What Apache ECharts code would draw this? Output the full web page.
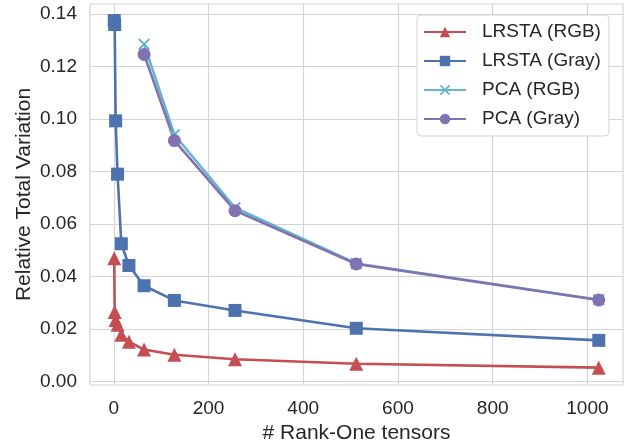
<!DOCTYPE html>
<html>
<head>
<meta charset="utf-8">
<script src="https://cdn.jsdelivr.net/npm/echarts@6/dist/echarts.min.js"></script>
<style>
  html, body { margin: 0; padding: 0; background: #fff; }
  #myChart { width: 625px; height: 445px; }
</style>
</head>
<body>
<div id="myChart"></div>
<script>
    // data
    const lrstaX = [1, 2, 4, 8, 16, 32, 64, 128, 256, 512, 1024];
    const lrstaRGB = [0.047, 0.0265, 0.0235, 0.0216, 0.0178, 0.0152, 0.0122, 0.0102, 0.0085, 0.0068, 0.0053];
    const lrstaGray = [0.1375, 0.136, 0.0993, 0.0790, 0.0525, 0.0442, 0.0365, 0.0309, 0.0271, 0.0203, 0.0157];
    const pcaX = [64, 128, 256, 512, 1024];
    const pcaRGB = [0.1285, 0.0940, 0.0662, 0.0450, 0.0312];
    const pcaGray = [0.1246, 0.0918, 0.0651, 0.0448, 0.0311];
    const xTicks = [0, 200, 400, 600, 800, 1000];
    const yTicks = [0, 0.02, 0.04, 0.06, 0.08, 0.10, 0.12, 0.14];

    const font = "'Liberation Sans', Arial, sans-serif";
    const txt = '#262626';
    const gridCol = '#d4d4d4';
    const crossPath = 'path://M0,1.2L1.2,0L5,3.8L8.8,0L10,1.2L6.2,5L10,8.8L8.8,10L5,6.2L1.2,10L0,8.8L3.8,5Z';

    function pairs(xs, ys) {
        return xs.map((x, i) => [x, ys[i]]);
    }
    function line(name, xs, ys, color, symbol, size) {
        return {
            name: name,
            type: 'line',
            data: pairs(xs, ys),
            symbol: symbol,
            symbolSize: size,
            showAllSymbol: true,
            lineStyle: { color: color, width: 2.6 },
            itemStyle: { color: color },
            emphasis: { disabled: true }
        };
    }

    let myChart = echarts.init(document.getElementById('myChart'));
    myChart.setOption({
        animation: false,
        textStyle: { fontFamily: font },
        grid: {
            left: 90, right: 2, top: 4, bottom: 60,
            outerBoundsMode: 'none',
            containLabel: false,
            show: true, borderColor: gridCol, borderWidth: 1.2
        },
        legend: {
            orient: 'vertical',
            left: 417, top: 15,
            padding: [6, 8, 6, 6],
            itemWidth: 42, itemHeight: 13,
            itemGap: 7,
            backgroundColor: '#fff',
            borderColor: '#d4d4d4', borderWidth: 1, borderRadius: 4,
            textStyle: { fontFamily: font, fontSize: 19, color: txt, lineHeight: 22, padding: [0, 0, 0, 11] },
            data: ['LRSTA (RGB)', 'LRSTA (Gray)', 'PCA (RGB)', 'PCA (Gray)']
        },
        xAxis: {
            type: 'value',
            min: -50.15, max: 1075.15,
            name: '# Rank-One tensors',
            nameLocation: 'middle',
            nameGap: 38,
            nameMoveOverlap: false,
            nameTextStyle: { fontFamily: font, fontSize: 21, color: txt },
            axisLine: { show: false },
            axisTick: { show: false, customValues: xTicks },
            axisLabel: {
                customValues: xTicks, fontSize: 19, color: txt, margin: 14, fontFamily: font,
                formatter: v => String(v)
            },
            splitLine: { show: true, lineStyle: { color: gridCol, width: 1.2 } }
        },
        yAxis: {
            type: 'value',
            min: -0.0013, max: 0.1438,
            name: 'Relative Total Variation',
            nameLocation: 'middle',
            nameGap: 55,
            nameMoveOverlap: false,
            nameTextStyle: { fontFamily: font, fontSize: 21, color: txt },
            axisLine: { show: false },
            axisTick: { show: false, customValues: yTicks },
            axisLabel: {
                customValues: yTicks, fontSize: 19, color: txt, margin: 13, fontFamily: font,
                formatter: v => v.toFixed(2)
            },
            splitLine: { show: true, lineStyle: { color: gridCol, width: 1.2 } }
        },
        series: [
            line('LRSTA (RGB)', lrstaX, lrstaRGB, '#C44E52', 'triangle', 14),
            line('LRSTA (Gray)', lrstaX, lrstaGray, '#4C72B0', 'rect', 13),
            line('PCA (RGB)', pcaX, pcaRGB, '#64B5CD', crossPath, 12),
            line('PCA (Gray)', pcaX, pcaGray, '#8172B2', 'circle', 13)
        ]
    });
</script>
</body>
</html>
